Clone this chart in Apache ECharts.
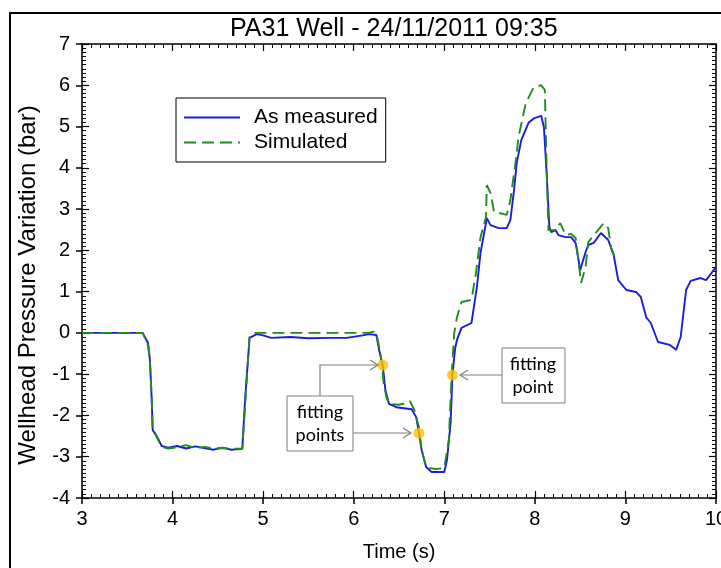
<!DOCTYPE html>
<html>
<head>
<meta charset="utf-8">
<style>
  html, body { margin: 0; padding: 0; background: #fff; }
  #main { width: 721px; height: 568px; }
</style>
<script src="https://cdn.jsdelivr.net/npm/echarts@6.0.0/dist/echarts.min.js"></script>
</head>
<body>
<div id="main"></div>
<script>
// 实测曲线 [时间 s, 压力变化 bar]
var measured = [
  [3.0, 0], [3.67, 0], [3.73, -0.25], [3.75, -0.66], [3.77, -1.63], [3.78, -2.35], [3.83, -2.52],
  [3.88, -2.74], [3.95, -2.78], [4.05, -2.74], [4.15, -2.8], [4.25, -2.75], [4.35, -2.79],
  [4.45, -2.83], [4.55, -2.78], [4.65, -2.83], [4.77, -2.81], [4.8, -1.63], [4.83, -0.73],
  [4.85, -0.12], [4.93, -0.03], [5.0, -0.06], [5.09, -0.12], [5.3, -0.1], [5.5, -0.13],
  [5.73, -0.12], [5.92, -0.12], [6.1, -0.06], [6.17, -0.03], [6.25, -0.05], [6.28, -0.41],
  [6.32, -0.78], [6.35, -1.38], [6.39, -1.72], [6.47, -1.8], [6.64, -1.85], [6.69, -2.04],
  [6.72, -2.43], [6.75, -2.84], [6.8, -3.25], [6.86, -3.37], [7.0, -3.37], [7.03, -3.08],
  [7.07, -2.18], [7.09, -1.02], [7.12, -0.37], [7.14, -0.17], [7.19, 0.12], [7.3, 0.24],
  [7.36, 1.11], [7.4, 1.94], [7.44, 2.42], [7.47, 2.78], [7.51, 2.61], [7.6, 2.54], [7.69, 2.54],
  [7.73, 2.74], [7.77, 3.46], [7.8, 4.12], [7.85, 4.67], [7.93, 5.09], [7.99, 5.2], [8.07, 5.26],
  [8.1, 4.99], [8.13, 3.87], [8.16, 2.57], [8.18, 2.44], [8.23, 2.49], [8.26, 2.37], [8.34, 2.32],
  [8.4, 2.32], [8.45, 2.18], [8.48, 1.8], [8.5, 1.52], [8.56, 1.96], [8.59, 2.13], [8.65, 2.18],
  [8.73, 2.42], [8.81, 2.25], [8.87, 1.89], [8.92, 1.28], [9.01, 1.04], [9.12, 0.99], [9.17, 0.87],
  [9.23, 0.38], [9.28, 0.24], [9.36, -0.22], [9.49, -0.29], [9.56, -0.41], [9.61, -0.1],
  [9.67, 1.04], [9.72, 1.26], [9.83, 1.33], [9.89, 1.28], [9.95, 1.45], [10.0, 1.6]
]
// 模拟曲线
var simulated = [
  [3.0, 0], [3.67, 0], [3.73, -0.3], [3.75, -0.7], [3.77, -1.6], [3.78, -2.3], [3.83, -2.55],
  [3.88, -2.76], [3.95, -2.8], [4.05, -2.77], [4.15, -2.72], [4.25, -2.79], [4.35, -2.76],
  [4.45, -2.8], [4.55, -2.79], [4.65, -2.81], [4.77, -2.8], [4.8, -1.8], [4.83, -0.75],
  [4.85, -0.1], [4.9, 0], [6.17, 0], [6.22, 0.03], [6.25, 0], [6.28, -0.34], [6.31, -0.73],
  [6.33, -1.21], [6.36, -1.55], [6.39, -1.72], [6.5, -1.74], [6.58, -1.7], [6.62, -1.65],
  [6.67, -1.87], [6.72, -2.28], [6.75, -2.84], [6.8, -3.25], [6.83, -3.27], [6.91, -3.3],
  [7.0, -3.27], [7.05, -2.6], [7.08, -1.07], [7.11, 0], [7.14, 0.38], [7.19, 0.75], [7.3, 0.8],
  [7.35, 1.45], [7.4, 2.32], [7.46, 2.8], [7.47, 3.58], [7.51, 3.39], [7.55, 2.93], [7.62, 2.9],
  [7.69, 2.86], [7.73, 3.22], [7.79, 4.19], [7.82, 4.75], [7.9, 5.57], [7.99, 5.96], [8.07, 6.0],
  [8.11, 5.89], [8.13, 4.02], [8.15, 2.49], [8.23, 2.49], [8.28, 2.66], [8.34, 2.37], [8.4, 2.4],
  [8.45, 2.3], [8.48, 1.77], [8.51, 1.21], [8.56, 1.6], [8.59, 2.2], [8.67, 2.42], [8.76, 2.66],
  [8.81, 2.54], [8.84, 2.08], [8.89, 1.77]
]
// 拟合点
var fitPoints = [[6.32, -0.78], [6.72, -2.43], [7.09, -1.02]]

var FONT = 'Liberation Sans, Arial, sans-serif'
var NOTE_FONT = '18px Lato, sans-serif'

var chart = echarts.init(document.getElementById('main'))

// 内侧刻度轴（只画刻度和小刻度）
function tickAxis(position, min, max, showLine) {
  return {
    type: 'value',
    position: position,
    min: min,
    max: max,
    interval: 1,
    splitNumber: 10,
    axisLine: { show: showLine, onZero: false, lineStyle: { color: '#000', width: 1.5 } },
    axisTick: { show: true, inside: true, length: 7, lineStyle: { color: '#000', width: 1.2 } },
    minorTick: { show: true, splitNumber: 10, length: 4, lineStyle: { color: '#000', width: 1 } },
    axisLabel: { show: false },
    splitLine: { show: false },
  }
}

var grayLine = { stroke: '#7f7f7f', lineWidth: 1.2, fill: null }

var option = {
  animation: false,
  title: {
    text: 'PA31 Well - 24/11/2011 09:35',
    left: 225,
    top: 12,
    textStyle: { fontFamily: FONT, fontSize: 25, fontWeight: 'normal', color: '#000' },
  },
  grid: { left: 82, right: 5, top: 44, bottom: 70, containLabel: false, outerBoundsMode: 'none' },
  legend: {
    data: ['As measured', 'Simulated'],
    orient: 'vertical',
    left: 176,
    top: 98,
    padding: [9, 8, 9, 7],
    itemGap: 4,
    itemWidth: 56,
    itemHeight: 14,
    borderColor: '#000',
    borderWidth: 1,
    backgroundColor: '#fff',
    itemStyle: { color: 'rgba(0,0,0,0)', borderWidth: 0, opacity: 0 },
    textStyle: { fontFamily: FONT, fontSize: 21, color: '#000', padding: [0, 0, 0, 9] },
  },
  xAxis: [
    {
      type: 'value',
      position: 'bottom',
      min: 3,
      max: 10,
      interval: 1,
      name: 'Time (s)',
      nameLocation: 'middle',
      nameGap: 44,
      nameTextStyle: { fontFamily: FONT, fontSize: 20, color: '#000' },
      axisLine: { show: true, onZero: false, lineStyle: { color: '#000', width: 1.5 } },
      axisTick: { show: true, inside: false, length: 6, lineStyle: { color: '#000', width: 1.5 } },
      axisLabel: { fontFamily: FONT, fontSize: 20, color: '#000', margin: 11 },
      splitLine: { show: false },
    },
    tickAxis('bottom', 3, 10, false),
    tickAxis('top', 3, 10, true),
  ],
  yAxis: [
    {
      type: 'value',
      position: 'left',
      min: -4,
      max: 7,
      interval: 1,
      name: 'Wellhead Pressure Variation (bar)',
      nameLocation: 'middle',
      nameGap: 42,
      nameTextStyle: { fontFamily: FONT, fontSize: 24, color: '#000', padding: [0, 28, 0, 0] },
      axisLine: { show: true, onZero: false, lineStyle: { color: '#000', width: 1.5 } },
      axisTick: { show: true, inside: false, length: 6, lineStyle: { color: '#000', width: 1.5 } },
      axisLabel: { fontFamily: FONT, fontSize: 20, color: '#000', margin: 12 },
      splitLine: { show: false },
    },
    tickAxis('left', -4, 7, false),
    tickAxis('right', -4, 7, true),
  ],
  series: [
    {
      name: 'As measured',
      type: 'line',
      data: measured,
      symbol: 'none',
      lineStyle: { color: '#1c1cdc', width: 1.9 },
      itemStyle: { color: '#1c1cdc' },
      z: 2,
    },
    {
      name: 'Simulated',
      type: 'line',
      data: simulated,
      symbol: 'none',
      lineStyle: { color: '#218a21', width: 1.9, type: [12, 6] },
      itemStyle: { color: '#218a21' },
      z: 3,
    },
    {
      name: 'fit',
      type: 'scatter',
      data: fitPoints,
      symbolSize: 11,
      itemStyle: { color: '#ffc000' },
      z: 5,
    },
  ],
  graphic: [
    // 外框
    { type: 'rect', shape: { x: 10, y: 13, width: 740, height: 600 }, style: { fill: 'none', stroke: '#000', lineWidth: 2 }, silent: true },
    // fitting points 标注
    { type: 'polyline', shape: { points: [[320, 396], [320, 365], [378, 365]] }, style: grayLine, z: 10 },
    { type: 'polyline', shape: { points: [[370, 360], [378, 365], [370, 370]] }, style: grayLine, z: 10 },
    { type: 'polyline', shape: { points: [[353, 433], [411, 433]] }, style: grayLine, z: 10 },
    { type: 'polyline', shape: { points: [[403, 428], [411, 433], [403, 438]] }, style: grayLine, z: 10 },
    { type: 'rect', shape: { x: 287, y: 396, width: 66, height: 55 }, style: { fill: '#fff', stroke: '#7f7f7f', lineWidth: 1 }, z: 10 },
    { type: 'text', x: 320, y: 424, style: { text: 'fitting\npoints', font: NOTE_FONT, fill: '#000', align: 'center', verticalAlign: 'middle', lineHeight: 23 }, z: 11 },
    // fitting point 标注
    { type: 'polyline', shape: { points: [[502, 375], [460, 375]] }, style: grayLine, z: 10 },
    { type: 'polyline', shape: { points: [[468, 370], [460, 375], [468, 380]] }, style: grayLine, z: 10 },
    { type: 'rect', shape: { x: 502, y: 348, width: 63, height: 55 }, style: { fill: '#fff', stroke: '#7f7f7f', lineWidth: 1 }, z: 10 },
    { type: 'text', x: 533, y: 376, style: { text: 'fitting\npoint', font: NOTE_FONT, fill: '#000', align: 'center', verticalAlign: 'middle', lineHeight: 23 }, z: 11 },
  ],
}

chart.setOption(option)
</script>
</body>
</html>
